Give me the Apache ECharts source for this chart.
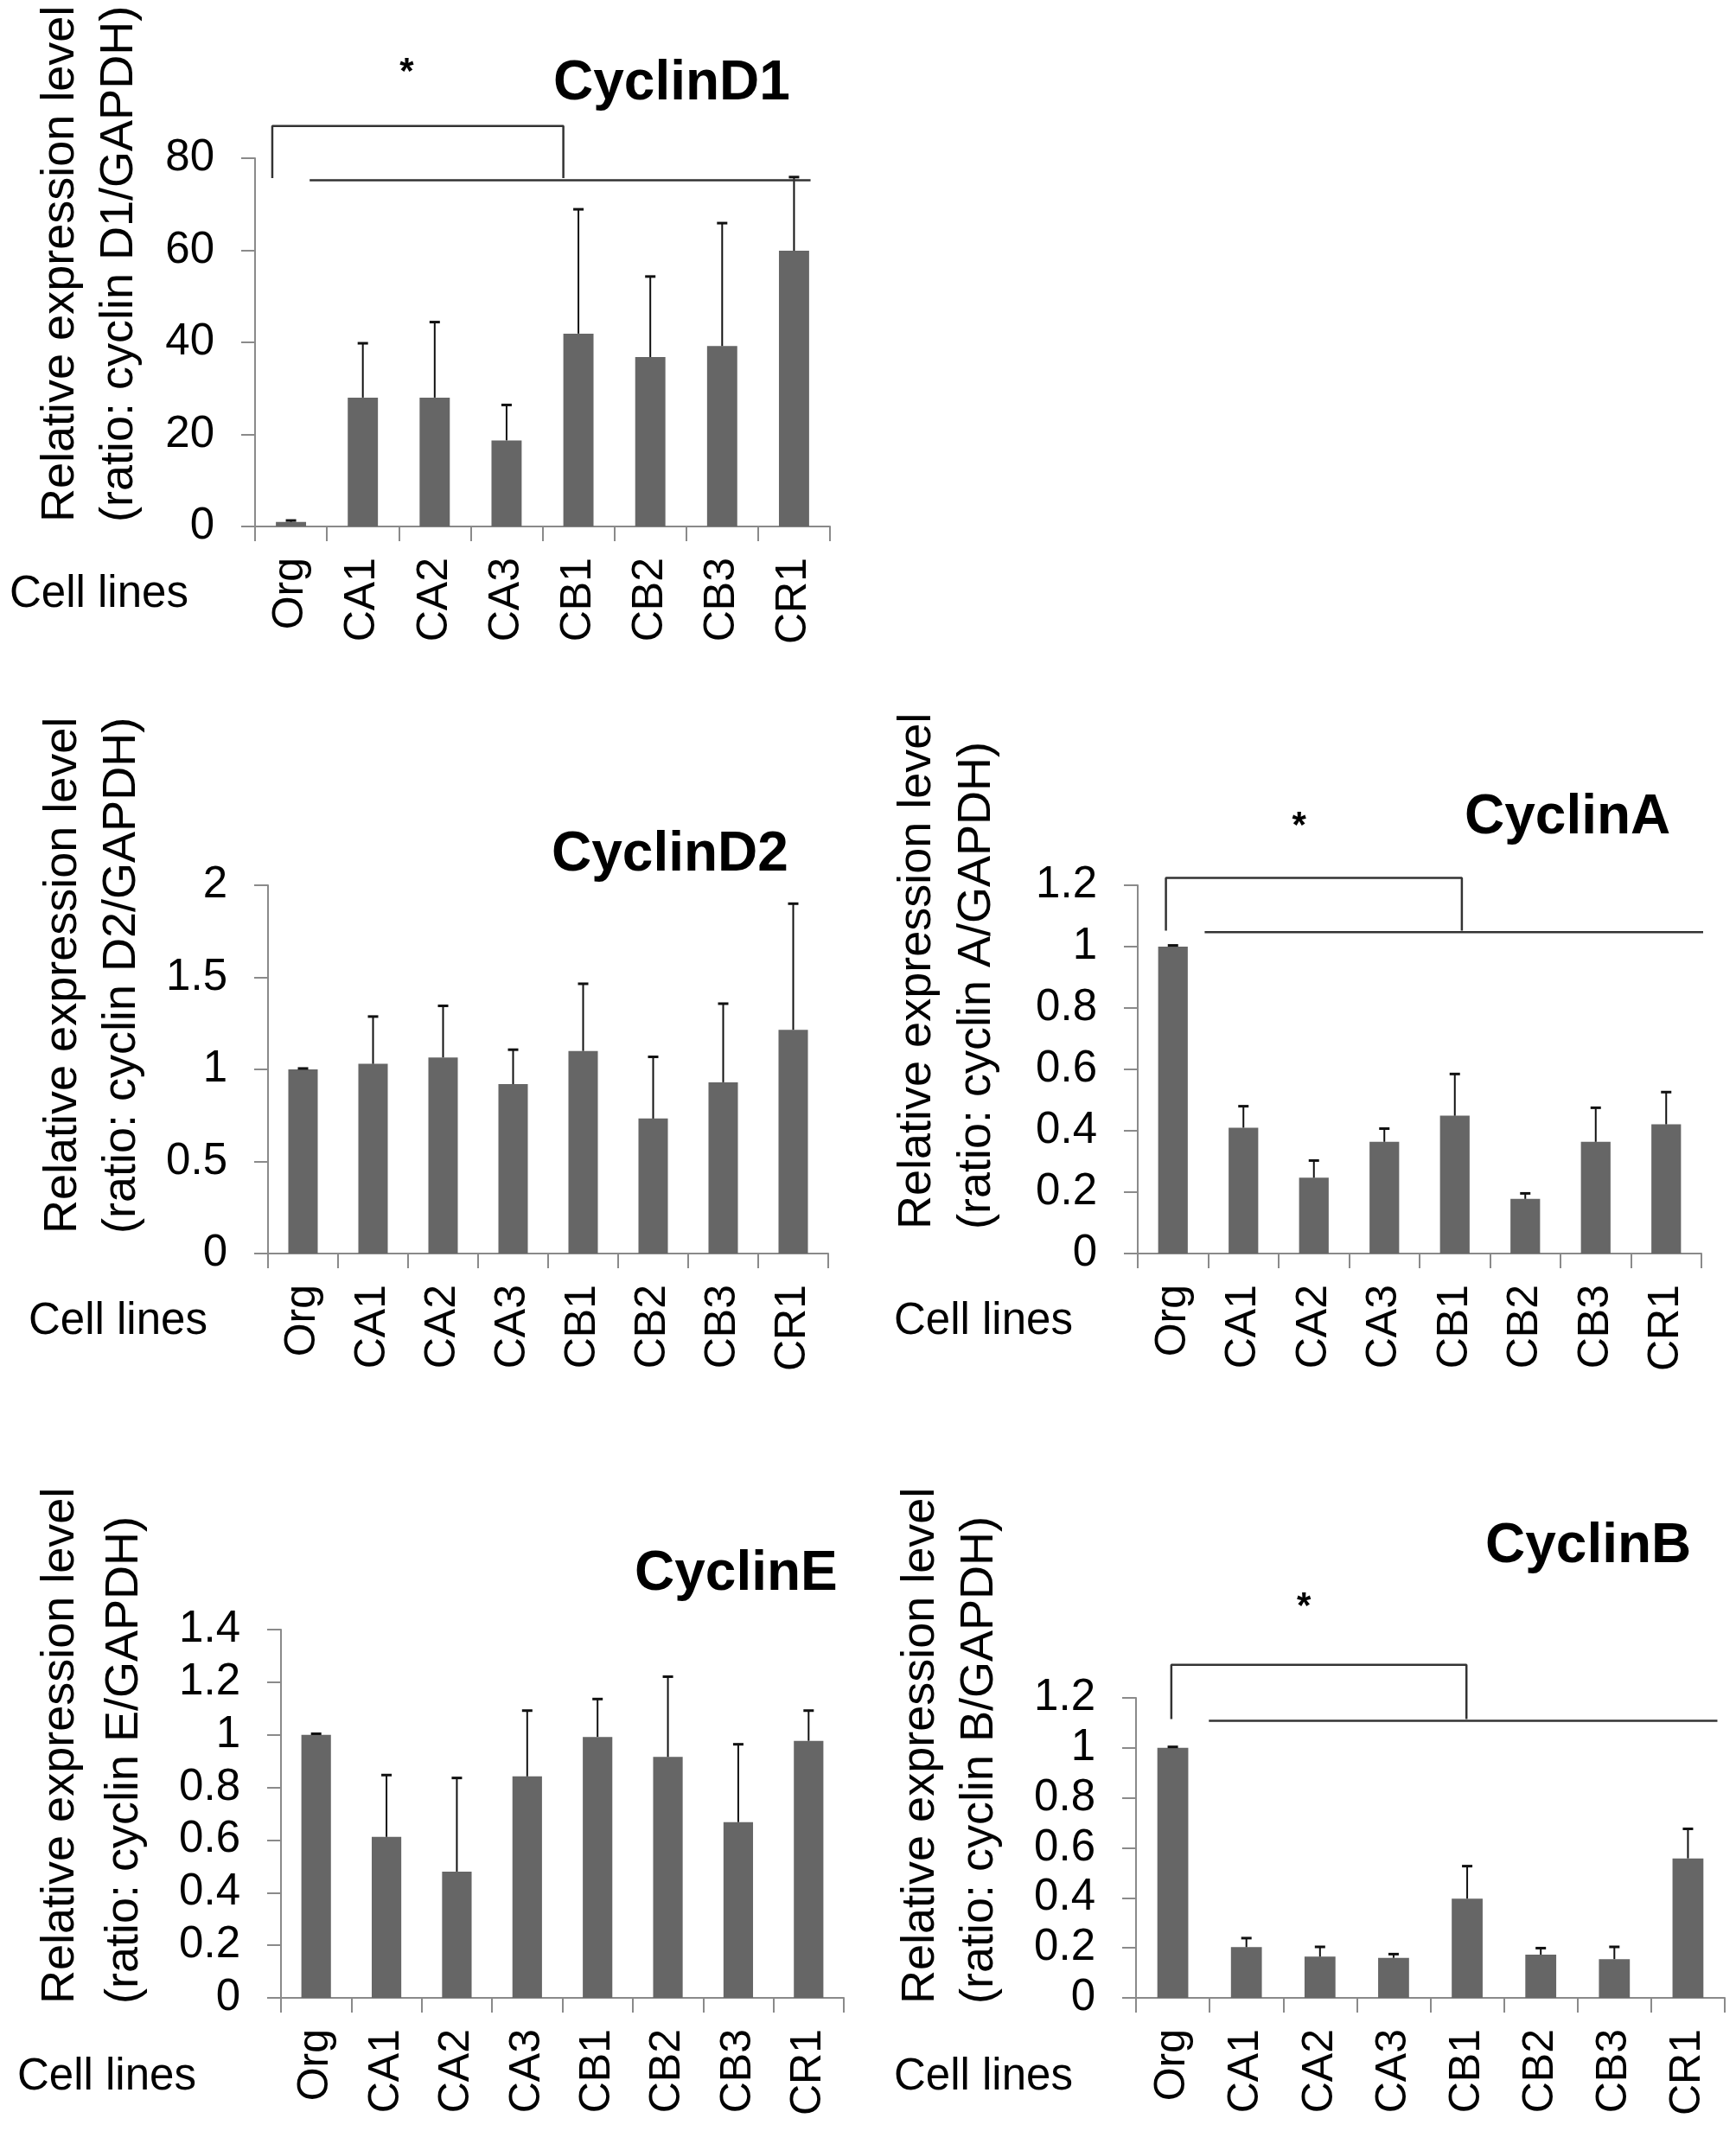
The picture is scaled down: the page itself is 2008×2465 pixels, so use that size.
<!DOCTYPE html>
<html>
<head>
<meta charset="utf-8">
<script src="https://cdn.jsdelivr.net/npm/echarts@6/dist/echarts.min.js"></script>
<style>
html,body{margin:0;padding:0;background:#fff;}
#chart{width:2008px;height:2465px;}
</style>
</head>
<body>
<div id="chart"></div>
<script>
// ---------- data ----------
const categories = ['Org', 'CA1', 'CA2', 'CA3', 'CB1', 'CB2', 'CB3', 'CR1'];

const cyclinD1Mean = [1.0, 28.0, 28.0, 18.7, 41.9, 36.8, 39.2, 59.9];
const cyclinD1Err  = [0.3, 11.8, 16.4, 7.7, 27.0, 17.5, 26.7, 16.0];

const cyclinD2Mean = [1.0, 1.03, 1.065, 0.92, 1.10, 0.733, 0.93, 1.215];
const cyclinD2Err  = [0.005, 0.257, 0.28, 0.187, 0.365, 0.335, 0.427, 0.685];

const cyclinAMean = [1.0, 0.41, 0.247, 0.364, 0.449, 0.178, 0.364, 0.421];
const cyclinAErr  = [0.004, 0.07, 0.056, 0.043, 0.136, 0.018, 0.111, 0.105];

const cyclinEMean = [1.0, 0.612, 0.48, 0.842, 0.992, 0.916, 0.668, 0.977];
const cyclinEErr  = [0.004, 0.235, 0.356, 0.25, 0.144, 0.305, 0.296, 0.115];

const cyclinBMean = [1.0, 0.203, 0.165, 0.16, 0.397, 0.173, 0.155, 0.558];
const cyclinBErr  = [0.004, 0.036, 0.039, 0.015, 0.13, 0.026, 0.049, 0.118];

// significance brackets: [category-position (0..8), value]
const bracketD1 = [[0.24, 75.7], [0.24, 87.0], [4.29, 87.0], [4.29, 75.7]];
const sigLineD1 = [[0.76, 75.2], [7.73, 75.2]];
const starD1 = [2.11, 98.6];

const bracketA = [[0.40, 1.052], [0.40, 1.224], [4.60, 1.224], [4.60, 1.052]];
const sigLineA = [[0.95, 1.047], [8.15, 1.047]];
const starA = [2.29, 1.39];

const bracketB = [[0.48, 1.115], [0.48, 1.332], [4.49, 1.332], [4.49, 1.115]];
const sigLineB = [[0.99, 1.108], [7.9, 1.108]];
const starB = [2.28, 1.56];

const panelTitles = ['CyclinD1', 'CyclinD2', 'CyclinA', 'CyclinE', 'CyclinB'];
const yTitleLine1 = 'Relative expression level';
const yTitleLine2 = ['(ratio: cyclin D1/GAPDH)', '(ratio: cyclin D2/GAPDH)', '(ratio: cyclin A/GAPDH)', '(ratio: cyclin E/GAPDH)', '(ratio: cyclin B/GAPDH)'];
const xTitle = 'Cell lines';

// ---------- layout ----------
const FONT = '"Liberation Sans", Arial, Helvetica, sans-serif';
const panels = [
  {grid:{left:295, top:183, width:665, height:426}, mean:cyclinD1Mean, err:cyclinD1Err, max:80, interval:20,
   bracket:bracketD1, sigLine:sigLineD1, star:starD1,
   title:[640, 97], yt:[70, 138.5, 604], xt:[11, 688]},
  {grid:{left:310, top:1024, width:648, height:426}, mean:cyclinD2Mean, err:cyclinD2Err, max:2, interval:0.5,
   title:[638, 989], yt:[73.5, 141, 1427], xt:[33, 1529]},
  {grid:{left:1316, top:1024, width:652, height:426}, mean:cyclinAMean, err:cyclinAErr, max:1.2, interval:0.2,
   bracket:bracketA, sigLine:sigLineA, star:starA,
   title:[1694, 946], yt:[1061.5, 1130.5, 1422], xt:[1034, 1529]},
  {grid:{left:325, top:1885, width:651, height:426}, mean:cyclinEMean, err:cyclinEErr, max:1.4, interval:0.2,
   title:[734, 1821], yt:[70.5, 144, 2318], xt:[20, 2403]},
  {grid:{left:1314, top:1964, width:681, height:347}, mean:cyclinBMean, err:cyclinBErr, max:1.2, interval:0.2,
   bracket:bracketB, sigLine:sigLineB, star:starB,
   title:[1718, 1789], yt:[1065, 1133.5, 2318], xt:[1034, 2403]}
];

const AXIS_COLOR = '#8a8a8a';
const grids = [], xAxes = [], yAxes = [], series = [], graphics = [];

function txt(text, x, y, font, align, rotation) {
  return {
    type: 'text', x: x, y: y, rotation: rotation || 0, silent: true,
    style: {text: text, font: font, fill: '#000',
      align: align, textAlign: align, verticalAlign: 'middle', textVerticalAlign: 'middle'}
  };
}

panels.forEach(function (p, i) {
  grids.push(Object.assign({containLabel:false}, p.grid));
  xAxes.push({
    type: 'category', gridIndex: i, data: categories,
    axisLine: {show: true, lineStyle: {color: AXIS_COLOR, width: 2}},
    axisTick: {show: true, length: 17, lineStyle: {color: AXIS_COLOR, width: 2}},
    axisLabel: {rotate: 90, interval: 0, margin: 36, fontSize: 50, fontFamily: FONT, color: '#000'},
    splitLine: {show: false}
  });
  xAxes.push({type: 'value', gridIndex: i, min: 0, max: 8, show: false});
  yAxes.push({
    type: 'value', gridIndex: i, min: 0, max: p.max, interval: p.interval,
    axisLine: {show: true, lineStyle: {color: AXIS_COLOR, width: 2}},
    axisTick: {show: true, length: 16, lineStyle: {color: AXIS_COLOR, width: 2}},
    axisLabel: {margin: 47, fontSize: 51, fontFamily: FONT, color: '#000'},
    splitLine: {show: false}
  });
  series.push({
    type: 'bar', xAxisIndex: 2 * i, yAxisIndex: i, data: p.mean, barWidth: '42%',
    itemStyle: {color: '#666666'}, z: 2
  });
  series.push({
    type: 'custom', xAxisIndex: 2 * i, yAxisIndex: i, z: 3,
    data: p.mean.map(function (m, k) { return [k, m, p.err[k]]; }),
    encode: {x: 0, y: 1},
    renderItem: function (params, api) {
      var k = api.value(0), m = api.value(1), e = api.value(2);
      var p0 = api.coord([k, m]), p1 = api.coord([k, m + e]);
      return {type: 'group', children: [
        {type: 'line', shape: {x1: p0[0], y1: p0[1], x2: p1[0], y2: p1[1]}, style: {stroke: '#111', lineWidth: 2}},
        {type: 'line', shape: {x1: p1[0] - 6, y1: p1[1], x2: p1[0] + 6, y2: p1[1]}, style: {stroke: '#111', lineWidth: 3}}
      ]};
    }
  });
  if (p.bracket) {
    series.push({
      type: 'line', xAxisIndex: 2 * i + 1, yAxisIndex: i, data: p.bracket, symbol: 'none', clip: false,
      lineStyle: {color: '#333', width: 2.5}, z: 4, silent: true
    });
    series.push({
      type: 'line', xAxisIndex: 2 * i + 1, yAxisIndex: i, data: p.sigLine, symbol: 'none', clip: false,
      lineStyle: {color: '#333', width: 2.5}, z: 4, silent: true
    });
    series.push({
      type: 'custom', xAxisIndex: 2 * i + 1, yAxisIndex: i, data: [p.star], z: 4,
      renderItem: function (params, api) {
        var c = api.coord([api.value(0), api.value(1)]);
        return {type: 'text', x: c[0], y: c[1],
          style: {text: '*', font: 'bold 42px ' + FONT, fill: '#000',
            align: 'center', textAlign: 'center', verticalAlign: 'middle', textVerticalAlign: 'middle'}};
      }
    });
  }
  graphics.push(txt(panelTitles[i], p.title[0], p.title[1], 'bold 64px ' + FONT, 'left'));
  graphics.push(txt(yTitleLine1, p.yt[0], p.yt[2], '54px ' + FONT, 'left', Math.PI / 2));
  graphics.push(txt(yTitleLine2[i], p.yt[1], p.yt[2], '54px ' + FONT, 'left', Math.PI / 2));
  graphics.push(txt(xTitle, p.xt[0], p.xt[1], '51px ' + FONT, 'left'));
});

const chart = echarts.init(document.getElementById('chart'), null, {renderer: 'canvas'});
chart.setOption({
  backgroundColor: '#ffffff',
  animation: false,
  grid: grids,
  xAxis: xAxes,
  yAxis: yAxes,
  series: series,
  graphic: {elements: graphics}
});
</script>
</body>
</html>
